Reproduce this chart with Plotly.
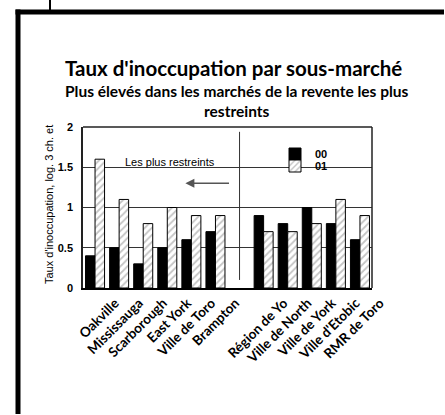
import plotly.graph_objects as go

categories = ["Oakville", "Mississauga", "Scarborough", "East York", "Ville de Toro", "Brampton",
              "", "Région de Yo", "Ville de North", "Ville de York", "Ville d'Etobic", "RMR de Toro"]
v00 = [0.4, 0.5, 0.3, 0.5, 0.6, 0.7, None, 0.9, 0.8, 1.0, 0.8, 0.6]
v01 = [1.6, 1.1, 0.8, 1.0, 0.9, 0.9, None, 0.7, 0.7, 0.8, 1.1, 0.9]
y_ticks = [0, 0.5, 1, 1.5, 2]
y_ticklabels = ["0", "0.5", "1", "1.5", "2"]

xs = list(range(len(categories)))
tick_x = [i for i, c in enumerate(categories) if c]
tick_t = [c for c in categories if c]

fig = go.Figure()
fig.add_trace(go.Bar(x=xs, y=v00, name="00", legend="legend",
                     marker=dict(color="black", line=dict(color="black", width=1))))
fig.add_trace(go.Bar(x=xs, y=v01, name="01", legend="legend2",
                     marker=dict(color="white", line=dict(color="black", width=1),
                                 pattern=dict(shape="/", fgcolor="#8a8a8a", bgcolor="white",
                                              size=5, solidity=0.35))))

W, H = 445, 415
L, R, T, B = 83, 372, 127, 288
pw, ph = R - L, B - T

def px(x):
    return (x - L) / pw

def py(y):
    return (B - y) / ph

legfont = dict(family="Arial", size=11, color="black", weight="bold")
fig.update_layout(
    width=W, height=H,
    margin=dict(l=L, r=W - R, t=T, b=H - B),
    paper_bgcolor="white", plot_bgcolor="white",
    barmode="group", bargap=0.21, bargroupgap=0,
    showlegend=True,
    legend=dict(x=px(275), y=py(154), xanchor="left", yanchor="middle",
                bgcolor="rgba(0,0,0,0)", font=legfont, itemwidth=30),
    legend2=dict(x=px(275), y=py(166), xanchor="left", yanchor="middle",
                 bgcolor="rgba(0,0,0,0)", font=legfont, itemwidth=30),
    xaxis=dict(range=[-0.5, 11.5], tickvals=tick_x, ticktext=tick_t, tickangle=-45,
               ticks="", showgrid=False, zeroline=False,
               showline=True, linecolor="black", linewidth=2, mirror=False,
               ticklabelshift=20,
               tickfont=dict(family="Lato", size=13.5, color="black", weight="bold")),
    yaxis=dict(range=[0, 2], tickvals=y_ticks, ticktext=y_ticklabels,
               showgrid=True, gridcolor="#333333", gridwidth=1, zeroline=False,
               showline=True, linecolor="#222222", linewidth=1.5, ticks="",
               ticklabelstandoff=6,
               tickfont=dict(family="Arial", size=11, color="black", weight="bold")),
)

# plot-area border (top and right)
fig.add_shape(type="line", xref="paper", yref="paper", x0=0, x1=1, y0=1, y1=1,
              line=dict(color="#222222", width=1.5))
fig.add_shape(type="line", xref="paper", yref="paper", x0=1, x1=1, y0=0, y1=1,
              line=dict(color="#222222", width=1.5))

# divider line between the two groups
fig.add_shape(type="line", xref="x", yref="y", x0=6, x1=6, y0=0.1, y1=1.94,
              line=dict(color="#333333", width=1))

# outer thick frame (left and top edges; the rest lies outside the picture)
fig.add_shape(type="line", xref="paper", yref="paper",
              x0=px(18), x1=px(18), y0=py(414), y1=py(9.5),
              line=dict(color="black", width=5), layer="above")
fig.add_shape(type="line", xref="paper", yref="paper",
              x0=px(15.5), x1=px(444), y0=py(12), y1=py(12),
              line=dict(color="black", width=5), layer="above")
fig.add_shape(type="line", xref="paper", yref="paper",
              x0=px(50), x1=px(50), y0=py(10), y1=py(0),
              line=dict(color="black", width=2))

# titles
fig.add_annotation(xref="paper", yref="paper", x=px(233), y=py(68),
                   text="Taux d'inoccupation par sous-marché", showarrow=False,
                   font=dict(family="Lato", size=20.5, color="black", weight="bold"),
                   xanchor="center", yanchor="middle")
fig.add_annotation(xref="paper", yref="paper", x=px(237), y=py(101),
                   text="Plus élevés dans les marchés de la revente les plus<br>restreints",
                   showarrow=False, align="center",
                   font=dict(family="Lato", size=15.5, color="black", weight="bold"),
                   xanchor="center", yanchor="middle")

# y-axis title
fig.add_annotation(xref="paper", yref="paper", x=px(49), y=py(205),
                   text="Taux d'inoccupation, log. 3 ch. et", showarrow=False, textangle=-90,
                   font=dict(family="Arial", size=11, color="black"),
                   xanchor="center", yanchor="middle")

# "Les plus restreints" label and arrow
fig.add_annotation(xref="paper", yref="paper", x=px(170), y=py(162),
                   text="Les plus restreints", showarrow=False,
                   font=dict(family="Arial", size=11, color="black"),
                   xanchor="center", yanchor="middle")
fig.add_annotation(xref="x", yref="y", axref="x", ayref="y",
                   x=3.75, y=1.30, ax=5.625, ay=1.30, text="", showarrow=True,
                   arrowhead=2, arrowsize=1.2, arrowwidth=1.5, arrowcolor="#555555")

fig.write_html("out.html", config={"displayModeBar": False},
               post_script="document.documentElement.style.overflow='hidden';"
                           "document.body.style.margin='0';document.body.style.overflow='hidden';")
